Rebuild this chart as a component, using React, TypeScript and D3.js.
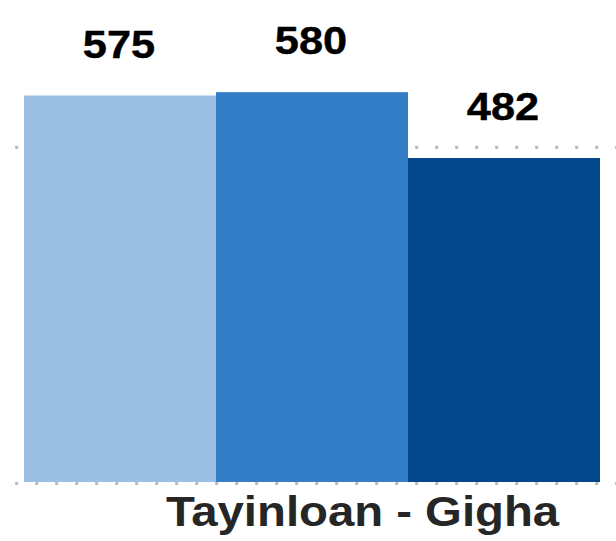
import React from "react";
import * as d3 from "d3";

const categories = ["A", "B", "C"];
const values = [575, 580, 482];
const valueLabels = ["575", "580", "482"];
const gridTicks = [0, 500];
const groupLabel = "Tayinloan - Gigha";
const colors = ["#9BC0E3", "#347EC8", "#01478A"];

const W = 616;
const H = 541;

export default function App() {
  const x = d3.scaleBand<string>().domain(categories).range([24, 600]).padding(0);
  const y = d3.scaleLinear().domain([0, 575]).range([482, 95.5]);

  return (
    <svg
      width={W}
      height={H}
      style={{ position: "absolute", left: 0, top: 0, background: "#fff" }}
      fontFamily="'Liberation Sans', Arial, sans-serif"
    >
      {gridTicks.map((t) => (
        <line
          key={t}
          x1={16.7}
          x2={W + 2}
          y1={y(t) + 1.5}
          y2={y(t) + 1.5}
          stroke="#bdbdbd"
          strokeWidth={3.6}
          strokeLinecap="round"
          strokeDasharray="0 20"
        />
      ))}
      {categories.map((c, i) => (
        <rect
          key={c}
          x={x(c)}
          y={y(values[i])}
          width={x.bandwidth()}
          height={y(0) - y(values[i])}
          fill={colors[i]}
        />
      ))}
      {categories.map((c, i) => (
        <g
          key={c + "l"}
          transform={`translate(${(x(c) as number) + x.bandwidth() / 2 - 1},${y(values[i]) - 38}) scale(1.14,1)`}
        >
          <text textAnchor="middle" fontSize={38} fontWeight="bold" fill="#000" stroke="#000" strokeWidth={0.4}>
            {valueLabels[i]}
          </text>
        </g>
      ))}
      <g transform={`translate(362.5,525.7) scale(1.1,1)`}>
        <text textAnchor="middle" fontSize={43} fontWeight="bold" fill="#262626">
          {groupLabel}
        </text>
      </g>
    </svg>
  );
}
